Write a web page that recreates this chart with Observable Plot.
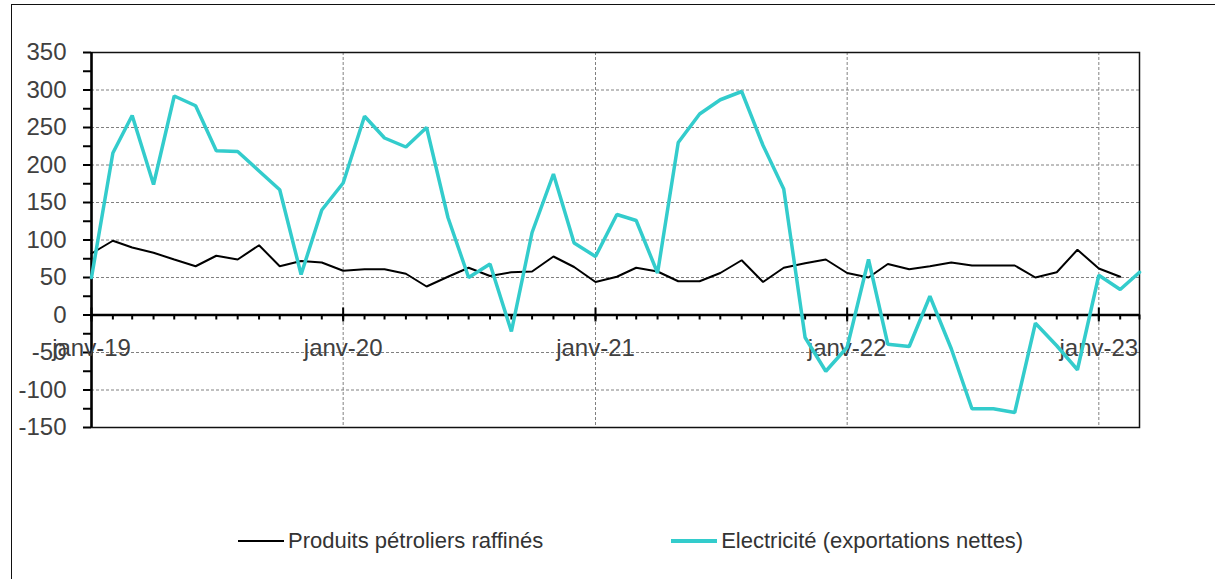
<!DOCTYPE html>
<html><head><meta charset="utf-8">
<script src="https://cdn.jsdelivr.net/npm/d3@7"></script>
<script src="https://cdn.jsdelivr.net/npm/@observablehq/plot@0.6"></script>
<style>
body{margin:0;width:1215px;height:579px;overflow:hidden;background:#fff;position:relative;font-family:"Liberation Sans",Arial,sans-serif;}
#frame{position:absolute;left:11px;top:4px;width:1230px;height:620px;border-left:1.5px solid #111;border-top:1.5px solid #111;box-sizing:border-box;}
#chart{position:absolute;left:0;top:0;}
#legend{position:absolute;left:238px;top:528px;display:flex;align-items:center;gap:128px;font-size:22px;color:#333;}
.item{display:flex;align-items:center;}
.sw{display:inline-block;width:46px;margin-right:4px;}
</style></head>
<body>
<div id="frame"></div>
<div id="chart"></div>
<div id="legend"></div>
<script>
const months = ["2019-01","2019-02","2019-03","2019-04","2019-05","2019-06","2019-07","2019-08","2019-09","2019-10","2019-11","2019-12",
"2020-01","2020-02","2020-03","2020-04","2020-05","2020-06","2020-07","2020-08","2020-09","2020-10","2020-11","2020-12",
"2021-01","2021-02","2021-03","2021-04","2021-05","2021-06","2021-07","2021-08","2021-09","2021-10","2021-11","2021-12",
"2022-01","2022-02","2022-03","2022-04","2022-05","2022-06","2022-07","2022-08","2022-09","2022-10","2022-11","2022-12",
"2023-01","2023-02","2023-03"];
const petrole = [82,99,90,83,74,65,79,74,93,65,72,70,59,61,61,55,38,51,63,52,57,58,78,64,44,51,63,58,45,45,56,73,44,63,69,74,56,50,68,61,65,70,66,66,66,50,57,87,62,51];
const electricite = [50,216,266,174,292,279,219,218,192,167,54,140,176,265,236,224,250,130,50,68,-22,110,188,96,78,134,126,56,230,268,287,298,226,168,-30,-75,-43,74,-39,-42,25,-45,-125,-125,-130,-11,-41,-73,53,34,57];
const seriesNames = ["Produits pétroliers raffinés","Electricité (exportations nettes)"];
const seriesColors = ["#000000","#33CCCC"];
const seriesWidths = [2,3.5];
const xTickLabels = ["janv-19","janv-20","janv-21","janv-22","janv-23"];
const yTicks = [-150,-100,-50,0,50,100,150,200,250,300,350];
const yMinorTicks = d3.range(-150,351,25);

const parse = d3.utcParse("%Y-%m");
const dates = months.map(parse);
const janDates = dates.filter(d => d.getUTCMonth() === 0);
const domainX = [dates[0], dates[dates.length-1]];
const rows = [];
petrole.forEach((v,i) => rows.push({date: dates[i], value: v, s: seriesNames[0]}));
electricite.forEach((v,i) => rows.push({date: dates[i], value: v, s: seriesNames[1]}));

const gridStyle = {stroke:"#808080", strokeWidth:1, strokeDasharray:"3,2"};
const plot = Plot.plot({
  width: 1215, height: 500,
  marginLeft: 91, marginRight: 76, marginTop: 52, marginBottom: 73,
  x: {type:"utc", domain: domainX, axis: null},
  y: {domain:[-150,350], axis: null},
  style: {fontFamily:"'Liberation Sans', Arial, sans-serif", background:"transparent"},
  marks: [
    Plot.ruleY(yTicks.filter(t => t > -150 && t < 350), {y: d => d, ...gridStyle}),
    Plot.ruleX(janDates.slice(1), {x: d => d, ...gridStyle}),
    Plot.frame({stroke:"#111", strokeWidth:1.5}),
    Plot.ruleY(yMinorTicks, {y: d => d, x1: () => domainX[0], x2: () => domainX[0], insetLeft: -8, stroke:"#000", strokeWidth:2}),
    Plot.ruleX([domainX[0]], {x: d => d, stroke:"#000", strokeWidth:2.5}),
    Plot.ruleY([0], {y: d => d, stroke:"#000", strokeWidth:2.5}),
    Plot.ruleX(dates, {x: d => d, y1: () => 0, y2: () => 0, insetTop: 0, insetBottom: -5, stroke:"#000", strokeWidth:2}),
    Plot.ruleX(janDates, {x: d => d, y1: () => 0, y2: () => 0, insetTop: -7, insetBottom: -7, stroke:"#000", strokeWidth:2}),
    Plot.text(yTicks, {x: () => domainX[0], y: d => d, text: d => String(d), textAnchor:"end", dx:-25, fontSize:24, fill:"#404040"}),
    Plot.text(janDates, {x: d => d, y: () => 0, text: (d,i) => xTickLabels[i], dy:33, fontSize:24, fill:"#404040"}),
    Plot.line(rows.filter(r => r.s === seriesNames[0]), {x:"date", y:"value", stroke: seriesColors[0], strokeWidth: seriesWidths[0], strokeLinejoin:"miter"}),
    Plot.line(rows.filter(r => r.s === seriesNames[1]), {x:"date", y:"value", stroke: seriesColors[1], strokeWidth: seriesWidths[1], strokeLinejoin:"miter"})
  ]
});
document.getElementById("chart").appendChild(plot);

const legend = document.getElementById("legend");
seriesNames.forEach((n,i) => {
  const it = document.createElement("div"); it.className = "item";
  const sw = document.createElement("span"); sw.className = "sw";
  sw.style.borderTop = `${seriesWidths[i]+0.5}px solid ${seriesColors[i]}`;
  const tx = document.createElement("span"); tx.textContent = n;
  it.appendChild(sw); it.appendChild(tx); legend.appendChild(it);
});
</script>
</body></html>
